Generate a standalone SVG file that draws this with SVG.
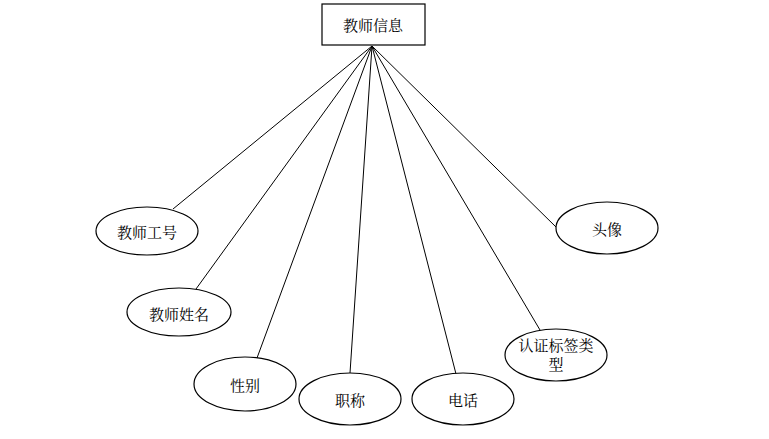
<svg xmlns="http://www.w3.org/2000/svg" width="769" height="439" viewBox="0 0 769 439">
<style>
.s{fill:#fff;stroke:#000;stroke-width:1.2}
.c line{stroke:#000;stroke-width:1}
text{font-family:"Noto Serif CJK SC","Noto Sans CJK SC",serif;font-size:15px;fill:#000;text-anchor:middle;dominant-baseline:central}
</style>
<rect width="769" height="439" fill="#fff"/>
<g class="c" id="connectors">
<line x1="372" y1="46" x2="173" y2="209"/>
<line x1="372" y1="46" x2="196" y2="289"/>
<line x1="372" y1="46" x2="257" y2="358"/>
<line x1="372" y1="46" x2="350" y2="373"/>
<line x1="372" y1="46" x2="456" y2="374"/>
<line x1="372" y1="46" x2="540" y2="330"/>
<line x1="372" y1="46" x2="557" y2="228"/>
</g>
<g id="teacher"><rect class="s" x="322" y="4" width="103" height="41"/><text x="373" y="24">教师信息</text></g>
<g id="id"><ellipse class="s" cx="147" cy="231" rx="51" ry="24"/><text x="147" y="231">教师工号</text></g>
<g id="name"><ellipse class="s" cx="179" cy="312" rx="52" ry="24"/><text x="179" y="313">教师姓名</text></g>
<g id="gender"><ellipse class="s" cx="245" cy="384" rx="51" ry="27"/><text x="245" y="384">性别</text></g>
<g id="title"><ellipse class="s" cx="350" cy="399" rx="51" ry="26"/><text x="350" y="399">职称</text></g>
<g id="phone"><ellipse class="s" cx="463" cy="399" rx="51" ry="26"/><text x="463" y="399">电话</text></g>
<g id="cert"><ellipse class="s" cx="556" cy="355" rx="51" ry="26"/><text x="556" y="344">认证标签类</text><text x="556" y="363">型</text></g>
<g id="avatar"><ellipse class="s" cx="607" cy="228" rx="51" ry="26"/><text x="607" y="228">头像</text></g>
</svg>
